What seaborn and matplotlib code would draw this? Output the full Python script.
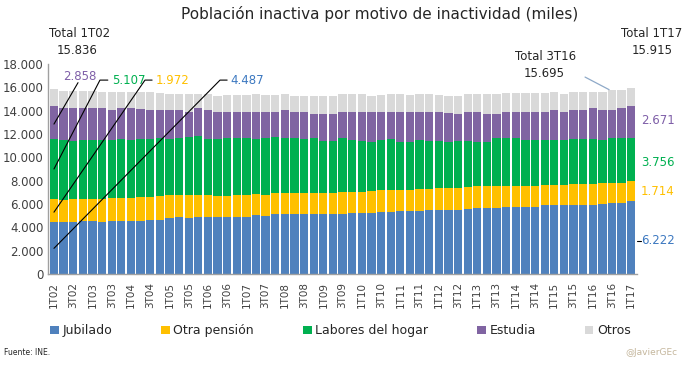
import numpy as np
import pandas as pd
import matplotlib
matplotlib.use("Agg")
import matplotlib.pyplot as plt
import seaborn as sns
from matplotlib.patches import Patch

periods = []
for yy in range(2, 18):
    for q in (1, 2, 3, 4):
        if yy == 17 and q > 1:
            break
        periods.append(f"{q}T{yy:02d}")

jubilado = [4487, 4490, 4490, 4540, 4540, 4490, 4540, 4540, 4540, 4540,
            4600, 4660, 4830, 4910, 4830, 4860, 4910, 4860, 4860, 4910,
            4910, 5090, 5000, 5110, 5110, 5110, 5110, 5170, 5170, 5170,
            5170, 5230, 5260, 5260, 5290, 5340, 5430, 5430, 5430, 5510,
            5510, 5510, 5510, 5600, 5690, 5690, 5690, 5770, 5770, 5770,
            5770, 5910, 5890, 5910, 5910, 5910, 5940, 6030, 6110, 6110, 6222]
otra_pension = [1972, 1880, 1940, 1910, 1910, 1970, 1970, 2000, 2000, 2030,
                2000, 2000, 1910, 1890, 1970, 1890, 1830, 1860, 1860, 1860,
                1890, 1800, 1800, 1800, 1800, 1800, 1800, 1800, 1800, 1800,
                1860, 1830, 1800, 1860, 1890, 1860, 1800, 1800, 1860, 1800,
                1860, 1890, 1890, 1830, 1830, 1830, 1830, 1800, 1800, 1800,
                1800, 1740, 1770, 1740, 1830, 1830, 1800, 1740, 1720, 1720, 1714]
labores = [5107, 5140, 5000, 5060, 5060, 5060, 5000, 5030, 4970, 5000,
           4970, 5000, 4830, 4830, 4940, 5060, 4860, 4860, 4910, 4910,
           4830, 4690, 4830, 4830, 4770, 4710, 4660, 4710, 4430, 4430,
           4660, 4400, 4340, 4230, 4290, 4340, 4110, 4110, 4230, 4090,
           4030, 3940, 4000, 3970, 3830, 3830, 4170, 4110, 4110, 3890,
           3940, 3860, 3860, 3860, 3830, 3830, 3830, 3740, 3860, 3860, 3756]
estudia = [2858, 2740, 2770, 2740, 2740, 2740, 2570, 2630, 2740, 2570,
           2460, 2430, 2460, 2460, 2170, 2400, 2490, 2340, 2290, 2170,
           2230, 2340, 2290, 2110, 2340, 2290, 2290, 2060, 2340, 2340,
           2170, 2460, 2510, 2510, 2400, 2370, 2510, 2510, 2340, 2510,
           2510, 2460, 2290, 2460, 2510, 2370, 2030, 2230, 2230, 2460,
           2400, 2400, 2510, 2400, 2460, 2510, 2630, 2570, 2400, 2570, 2671]
otros = [1412, 1460, 1510, 1460, 1460, 1370, 1490, 1370, 1370, 1430,
         1600, 1430, 1430, 1370, 1540, 1200, 1310, 1370, 1430, 1490,
         1490, 1540, 1430, 1490, 1430, 1370, 1430, 1540, 1540, 1540,
         1600, 1540, 1540, 1430, 1510, 1490, 1600, 1490, 1540, 1540,
         1430, 1490, 1600, 1540, 1540, 1740, 1740, 1600, 1600, 1600,
         1600, 1600, 1600, 1540, 1540, 1540, 1430, 1490, 1695, 1540, 1553]

series_names = ["Jubilado", "Otra pensión", "Labores del hogar", "Estudia", "Otros"]
colors = ["#4F81BD", "#FFC000", "#00B050", "#8064A2", "#D9D9D9"]
label_colors = ["#3C78C0", "#FFC000", "#00B050", "#7F5FA8"]

df = pd.DataFrame({"periodo": periods, "Jubilado": jubilado,
                   "Otra pensión": otra_pension, "Labores del hogar": labores,
                   "Estudia": estudia, "Otros": otros})
cum = df[series_names].cumsum(axis=1)

sns.set_style("white")
plt.rcParams["font.family"] = ["DejaVu Sans"]

fig = plt.figure(figsize=(6.99, 3.66), dpi=100)
ax = fig.add_axes([48/699, 92/366, (637-48)/699, (274-64)/366])

for name, col in reversed(list(zip(series_names, colors))):
    sns.barplot(x=df["periodo"], y=cum[name], color=col, width=0.86,
                saturation=1, ax=ax, linewidth=0, order=periods)

ax.set_xlim(-0.62, 60.6)
ax.set_ylim(0, 18000)
ax.set_yticks(range(0, 18001, 2000))
ax.set_yticklabels([f"{v:,}".replace(",", ".") for v in range(0, 18001, 2000)],
                   fontsize=8.5, color="#404040")
ax.set_xticks(range(0, len(periods), 2))
ax.set_xticklabels(periods[::2], rotation=90, fontsize=7.5, color="#404040")
ax.tick_params(axis="y", length=0, pad=3)
ax.tick_params(axis="x", length=0, pad=6)
ax.set_xlabel("")
ax.set_ylabel("")
for s in ["top", "right"]:
    ax.spines[s].set_visible(False)
for s in ["left", "bottom"]:
    ax.spines[s].set_color("#A0A0A0")
    ax.spines[s].set_linewidth(1)

# left annotations (first bar)
lw = 0.8
ax.plot([0, 2.5], [12850, 16400], color="black", lw=lw, clip_on=False)
ax.text(1.0, 16950, "2.858", color=label_colors[3], fontsize=8.5, va="center", ha="left")
ax.plot([0, 4.78, 5.6], [9000, 16620, 16620], color="black", lw=lw, clip_on=False)
ax.text(6.0, 16620, "5.107", color=label_colors[2], fontsize=8.5, va="center", ha="left")
ax.plot([0, 9.46, 10.2], [5300, 16620, 16620], color="black", lw=lw, clip_on=False)
ax.text(10.6, 16620, "1.972", color=label_colors[1], fontsize=8.5, va="center", ha="left")
ax.plot([0, 17.26, 18.0], [2200, 16620, 16620], color="black", lw=lw, clip_on=False)
ax.text(18.3, 16620, "4.487", color=label_colors[0], fontsize=8.5, va="center", ha="left")

# right annotations (last bar)
ax.text(61.0, 13200, "2.671", color=label_colors[3], fontsize=8.5, va="center", ha="left", clip_on=False)
ax.text(61.0, 9600, "3.756", color=label_colors[2], fontsize=8.5, va="center", ha="left", clip_on=False)
ax.text(61.0, 7100, "1.714", color=label_colors[1], fontsize=8.5, va="center", ha="left", clip_on=False)
ax.text(61.0, 2830, "6.222", color=label_colors[0], fontsize=8.5, va="center", ha="left", clip_on=False)
ax.plot([60.6, 61.0], [2830, 2830], color="black", lw=lw, clip_on=False)

# totals
ax.text(2.7, 20650, "Total 1T02", fontsize=8.5, ha="center", va="center", color="#262626", clip_on=False)
ax.text(2.4, 19200, "15.836", fontsize=8.5, ha="center", va="center", color="#262626", clip_on=False)
ax.text(51.1, 18600, "Total 3T16", fontsize=8.5, ha="center", va="center", color="#262626", clip_on=False)
ax.text(51.0, 17150, "15.695", fontsize=8.5, ha="center", va="center", color="#262626", clip_on=False)
ax.plot([55.2, 57.7], [16880, 15800], color="#8EA9C8", lw=0.9, clip_on=False)
ax.text(62.1, 20650, "Total 1T17", fontsize=8.5, ha="center", va="center", color="#262626", clip_on=False)
ax.text(62.2, 19200, "15.915", fontsize=8.5, ha="center", va="center", color="#262626", clip_on=False)

fig.text(0.543, 0.962, "Población inactiva por motivo de inactividad (miles)",
         ha="center", va="center", fontsize=11, color="#262626")

handles = [Patch(facecolor=c, edgecolor="none", label=n) for n, c in zip(series_names, colors)]
fig.legend(handles=handles, loc="center", bbox_to_anchor=(0.487, 0.096), ncol=5,
           frameon=False, fontsize=9, handlelength=0.7, handleheight=0.7,
           handletextpad=0.3, columnspacing=3.9, labelcolor="#262626")

fig.text(0.006, 0.038, "Fuente: INE.", fontsize=5.5, color="#262626", ha="left", va="center")
fig.text(0.969, 0.038, "@JavierGEc", fontsize=6.5, color="#C4B69C", ha="right", va="center")

fig.savefig("out.png", dpi=100, facecolor="white")
